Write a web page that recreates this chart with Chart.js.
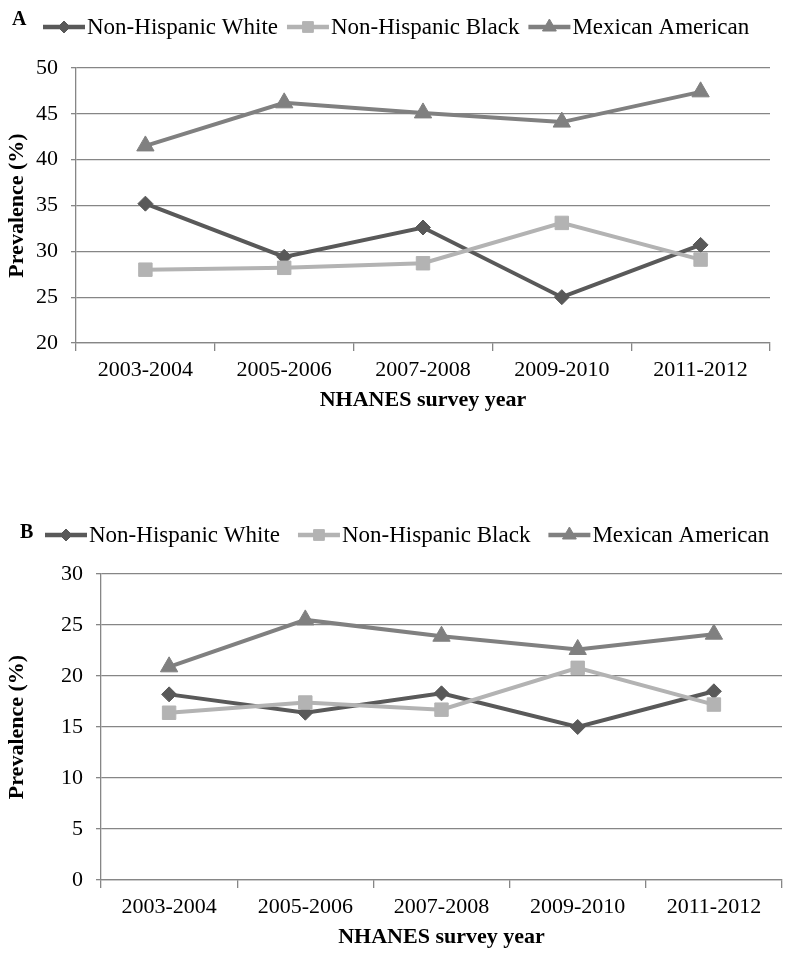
<!DOCTYPE html>
<html>
<head>
<meta charset="utf-8">
<script src="https://cdn.jsdelivr.net/npm/chart.js@4/dist/chart.umd.min.js"></script>
<style>
  html, body { margin: 0; padding: 0; background: #fff; }
  #wrap { position: relative; width: 793px; height: 961px; overflow: hidden; }
  canvas { position: absolute; left: 0; }
</style>
</head>
<body>
<div id="wrap">
  <canvas id="chart-a" width="793" height="420" style="top:0"></canvas>
  <canvas id="chart-b" width="793" height="471" style="top:490px"></canvas>
</div>
<script>
// ---- data ----
const surveyYears = ['2003-2004', '2005-2006', '2007-2008', '2009-2010', '2011-2012'];
const seriesNames = ['Non-Hispanic White', 'Non-Hispanic Black', 'Mexican American'];

// panel A
const whiteA   = [35.2, 29.4, 32.6, 25.0, 30.7];
const blackA   = [28.0, 28.2, 28.7, 33.1, 29.1];
const mexicanA = [41.5, 46.2, 45.1, 44.1, 47.4];
const yRangeA  = [20, 50];

// panel B
const whiteB   = [18.2, 16.4, 18.3, 15.0, 18.5];
const blackB   = [16.4, 17.4, 16.7, 20.8, 17.2];
const mexicanB = [20.9, 25.5, 23.9, 22.6, 24.1];
const yRangeB  = [0, 30];

const yStep = 5;

// ---- styles ----
const FONT = '"Liberation Serif", "Times New Roman", serif';
const GRID = '#868686';
const seriesStyle = [
  { color: '#595959', marker: 'rectRot',  radius: 7.5 },
  { color: '#b3b3b3', marker: 'rect',     radius: 9.5 },
  { color: '#808080', marker: 'triangle', radius: 10 },
];

// legend drawn as line + marker like the original, plus the panel letter
const lineLegend = {
  id: 'lineLegend',
  afterDraw(chart, args, opts) {
    const ctx = chart.ctx;
    ctx.save();
    ctx.textBaseline = 'middle';
    ctx.textAlign = 'left';
    ctx.fillStyle = '#000';
    ctx.font = 'bold 20px ' + FONT;
    ctx.fillText(opts.tag, opts.tagX, opts.tagY);

    ctx.font = '23px ' + FONT;
    let x = opts.x;
    chart.data.datasets.forEach(ds => {
      ctx.strokeStyle = ds.borderColor;
      ctx.lineWidth = 4.5;
      ctx.beginPath();
      ctx.moveTo(x, opts.y);
      ctx.lineTo(x + 42, opts.y);
      ctx.stroke();

      ctx.fillStyle = ds.borderColor;
      ctx.lineWidth = 1;
      Chart.helpers.drawPoint(ctx, {
        pointStyle: ds.pointStyle, radius: ds.pointRadius * 0.8, rotation: 0, borderWidth: 1,
      }, x + 21, opts.y);

      ctx.fillStyle = '#000';
      ctx.fillText(ds.label, x + 44, opts.y + 1);
      x += 44 + ctx.measureText(ds.label).width + opts.gap;
    });
    ctx.restore();
  },
};

function makePanel(id, values, yRange, geo) {
  return new Chart(document.getElementById(id), {
    type: 'line',
    data: {
      labels: surveyYears,
      datasets: seriesNames.map((name, i) => ({
        label: name,
        data: values[i],
        borderColor: seriesStyle[i].color,
        backgroundColor: seriesStyle[i].color,
        borderWidth: 4,
        tension: 0,
        fill: false,
        pointStyle: seriesStyle[i].marker,
        pointRadius: seriesStyle[i].radius,
        pointBorderWidth: 1,
        pointBackgroundColor: seriesStyle[i].color,
        pointBorderColor: seriesStyle[i].color,
        order: 2 - i,
      })),
    },
    options: {
      responsive: false,
      animation: false,
      events: [],
      layout: { padding: { top: geo.top, right: geo.right, bottom: 0, left: 0 } },
      plugins: {
        legend: { display: false },
        tooltip: { enabled: false },
        lineLegend: geo.legend,
      },
      scales: {
        x: {
          offset: true,
          grid: { offset: true, drawOnChartArea: false, drawTicks: true, tickLength: 8, color: GRID, lineWidth: 1.3 },
          border: { color: GRID, width: 1.3 },
          ticks: { color: '#000', padding: 6, maxRotation: 0, autoSkip: false, font: { family: FONT, size: 22 } },
          title: {
            display: true, text: 'NHANES survey year', color: '#000',
            font: { family: FONT, size: 22, weight: 'bold' },
            padding: { top: 0, bottom: geo.titleBottom },
          },
          afterFit: s => { s.height = geo.xHeight; },
        },
        y: {
          min: yRange[0],
          max: yRange[1],
          ticks: { stepSize: yStep, padding: 13, color: '#000', font: { family: FONT, size: 22 } },
          grid: { color: GRID, lineWidth: 1.3, tickLength: 5 },
          border: { color: GRID, width: 1.3 },
          title: {
            display: true, text: 'Prevalence (%)', color: '#000',
            font: { family: FONT, size: 22, weight: 'bold' },
            padding: { top: 4.3, bottom: 0 },
          },
          afterFit: s => { s.width = geo.yWidth; },
        },
      },
    },
    plugins: [lineLegend],
  });
}

makePanel('chart-a', [whiteA, blackA, mexicanA], yRangeA, {
  top: 68, right: 23, yWidth: 76, xHeight: 77, titleBottom: 6.8,
  legend: { tag: 'A', tagX: 12, tagY: 20, x: 43, y: 27, gap: 9 },
});

makePanel('chart-b', [whiteB, blackB, mexicanB], yRangeB, {
  top: 84, right: 10, yWidth: 101, xHeight: 81, titleBottom: 10.8,
  legend: { tag: 'B', tagX: 20, tagY: 43, x: 45, y: 45, gap: 18 },
});
</script>
</body>
</html>
